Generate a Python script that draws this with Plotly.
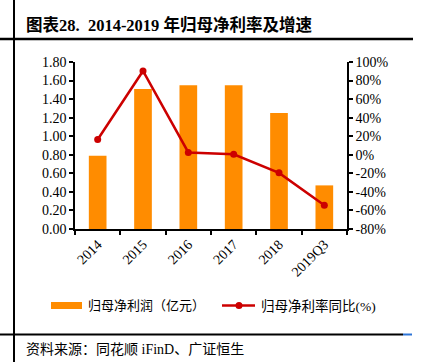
import plotly.graph_objects as go

categories = ["2014", "2015", "2016", "2017", "2018", "2019Q3"]
profit = [0.79, 1.51, 1.55, 1.55, 1.25, 0.47]          # 归母净利润（亿元）
growth = [16.5, 90.3, 2.5, 0.5, -19.5, -54.5]          # 归母净利率同比(%)
left_ticks = [0, 0.2, 0.4, 0.6, 0.8, 1.0, 1.2, 1.4, 1.6, 1.8]
right_ticks = [-80, -60, -40, -20, 0, 20, 40, 60, 80, 100]
right_labels = [f"{v}%" for v in right_ticks]

SERIF = "Liberation Serif, Noto Sans CJK SC, serif"
BAR_C = "#FF8C00"
LINE_C = "#CC0000"

W, H = 421, 362
L, R, T, B = 75, 347, 62, 229
pw, ph = R - L, B - T

def px(x):
    return (x - L) / pw

def py(y):
    return (B - y) / ph

fig = go.Figure()
fig.add_trace(go.Bar(x=categories, y=profit, marker=dict(color=BAR_C, line=dict(width=0)),
                     name="归母净利润（亿元）", yaxis="y", showlegend=False))
fig.add_trace(go.Scatter(x=categories, y=growth, mode="lines+markers",
                         line=dict(color=LINE_C, width=2.5),
                         marker=dict(color=LINE_C, size=7),
                         name="归母净利率同比(%)", yaxis="y2", showlegend=False))

axis_common = dict(showline=True, linecolor="#000000", linewidth=1.5, ticks="outside",
                   ticklen=4, tickcolor="#000000", tickwidth=1.5, showgrid=False,
                   zeroline=False, tickfont=dict(family=SERIF, size=14, color="#000000"))

fig.update_layout(
    width=W, height=H,
    margin=dict(l=L, r=W - R, t=T, b=H - B, autoexpand=False),
    plot_bgcolor="white", paper_bgcolor="white",
    bargap=0.61,
    xaxis=dict(**axis_common, type="category", tickson="boundaries", tickangle=-45),
    yaxis=dict(**axis_common, range=[0, 1.8], tickvals=left_ticks, tickformat=".2f"),
    yaxis2=dict(**axis_common, range=[-80, 100], tickvals=right_ticks, ticktext=right_labels,
                overlaying="y", side="right"),
    showlegend=False,
)

shapes = []
# frame lines
shapes.append(dict(type="line", xref="paper", yref="paper", x0=px(14), x1=px(14),
                   y0=py(0), y1=py(362), line=dict(color="black", width=2)))
shapes.append(dict(type="line", xref="paper", yref="paper", x0=px(0), x1=px(413),
                   y0=py(39), y1=py(39), line=dict(color="black", width=2.5)))
shapes.append(dict(type="line", xref="paper", yref="paper", x0=px(0), x1=px(403),
                   y0=py(334.5), y1=py(334.5), line=dict(color="black", width=2)))
shapes.append(dict(type="line", xref="paper", yref="paper", x0=px(403), x1=px(412),
                   y0=py(334.5), y1=py(334.5), line=dict(color="#2E75D6", width=2)))
# legend
shapes.append(dict(type="rect", xref="paper", yref="paper", x0=px(51), x1=px(82),
                   y0=py(309), y1=py(302), fillcolor=BAR_C, line=dict(width=0)))
shapes.append(dict(type="line", xref="paper", yref="paper", x0=px(222), x1=px(255),
                   y0=py(305.5), y1=py(305.5), line=dict(color=LINE_C, width=2.5)))
shapes.append(dict(type="circle", xref="paper", yref="paper", x0=px(235.5), x1=px(242.5),
                   y0=py(309), y1=py(302), fillcolor=LINE_C, line=dict(width=0)))
fig.update_layout(shapes=shapes)

ann = []
ann.append(dict(xref="paper", yref="paper", x=px(24), y=py(25), xanchor="left", yanchor="middle",
                text="<b>图表28.</b>  <b>2014-2019 年归母净利率及增速</b>", showarrow=False,
                font=dict(family=SERIF, size=16.5, color="black")))
ann.append(dict(xref="paper", yref="paper", x=px(86), y=py(305.5), xanchor="left", yanchor="middle",
                text="归母净利润（亿元）", showarrow=False,
                font=dict(family=SERIF, size=13, color="black")))
ann.append(dict(xref="paper", yref="paper", x=px(259), y=py(305.5), xanchor="left", yanchor="middle",
                text="归母净利率同比(%)", showarrow=False,
                font=dict(family=SERIF, size=13.5, color="black")))
ann.append(dict(xref="paper", yref="paper", x=px(24), y=py(349), xanchor="left", yanchor="middle",
                text="资料来源：同花顺 iFinD、广证恒生", showarrow=False,
                font=dict(family=SERIF, size=14, color="black")))
fig.update_layout(annotations=ann)

fig.write_html("out.html", config={"displayModeBar": False},
               post_script="document.body.style.margin='0';document.body.style.overflow='hidden';")
